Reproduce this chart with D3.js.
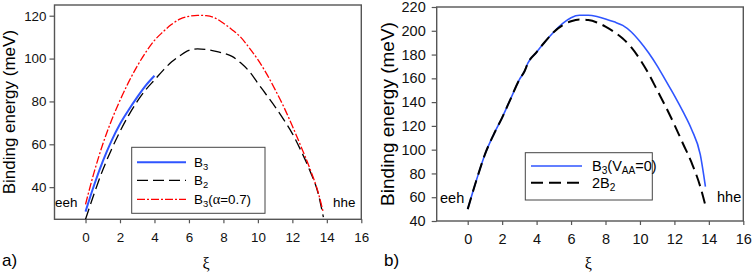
<!DOCTYPE html>
<html>
<head>
<meta charset="utf-8">
<script src="https://cdn.jsdelivr.net/npm/d3@7"></script>
<style>
  body { margin: 0; background: #fff; }
  svg { display: block; font-family: "Liberation Sans", Arial, sans-serif; }
</style>
</head>
<body>
<svg id="fig" width="754" height="275"></svg>
<script>
// panel a
const xiA = [0,0.5,1,1.5,2,2.5,3,3.5,4,4.5,5,5.5,6,6.5,7,7.5,8,8.5,9,9.5,10,10.5,11,11.5,12,12.5,13,13.5,13.8];
const xiA_B3 = [0,0.5,1,1.5,2,2.5,3,3.5,4];
const B3_a = [28.6,41,52,61.5,69.5,76,82,87.5,92];
const B2_a = [25,37,48,57.5,66,73.5,80,85.5,90,94.5,98.5,101.5,103.8,104.5,104.2,103.5,102.5,101,98,94,88.5,83,77.5,71.5,65,57,48,37,26];
const B3alpha_a = [32,47,60,71,80.5,89,96.5,103,108.5,112.5,116,118.5,119.7,120.2,120,119,116.5,113.5,110,105,99.5,93,85.5,77.5,68.5,59,49,37.5,28];

// panel b
const xiB = [0,0.5,1,1.5,2,2.5,3,3.3,3.5,4,4.5,5,5.5,6,6.5,7,7.5,8,8.5,9,9.5,10,10.5,11,11.5,12,12.5,13,13.5,13.8];
const B3V0_b = [50,74,96,112.5,127,143,159,166,173,182,191,199,206,211,213,213,212,210,207.5,204.5,199,191,181.5,170.5,158,145.5,132,117,96,69];
const B2x2_b = [50,74,96,112.5,127,143,159,166,173,182,191,199,204.5,208,209.5,209,207,203.5,199,193.5,186,176,164,150,136,121,105,89,69,53];

const xTicks = [0,2,4,6,8,10,12,14,16];
const yTicksA = [40,60,80,100,120];
const yTicksB = [40,60,80,100,120,140,160,180,200,220];

class LinePanel{
  constructor(config){
    this.config = config;
    this.init();
  }
  init(){
    let self = this;
    const c = self.config;
    const svg = d3.select('#fig');
    self.g = svg.append('g');

    self.xscale = d3.scaleLinear().domain([-1.8, 16]).range([c.left, c.right]);
    self.yscale = d3.scaleLinear().domain(c.ydomain).range([c.bottom, c.top]);

    const xaxis = d3.axisBottom(self.xscale).tickValues(xTicks).tickSize(4).tickSizeOuter(0).tickPadding(9);
    const yaxis = d3.axisLeft(self.yscale).tickValues(c.yticks).tickSize(5).tickSizeOuter(0).tickPadding(c.ypad);

    const xg = self.g.append('g').attr('transform', `translate(0,${c.bottom})`).call(xaxis);
    const yg = self.g.append('g').attr('transform', `translate(${c.left},0)`).call(yaxis);
    [xg, yg].forEach(a => {
      a.select('.domain').remove();
      a.selectAll('line').attr('stroke', '#555').attr('stroke-width', 1.2);
      a.selectAll('text').attr('fill', '#111').style('font-size', c.fs + 'px').style('font-family', '"Liberation Sans", Arial, sans-serif');
    });

    // frame
    self.g.append('rect')
      .attr('x', c.left).attr('y', c.top)
      .attr('width', c.right - c.left).attr('height', c.bottom - c.top)
      .attr('fill', 'none').attr('stroke', '#555').attr('stroke-width', 1.4);

    const line = d3.line().x(d => self.xscale(d[0])).y(d => self.yscale(d[1])).curve(d3.curveMonotoneX);
    c.series.forEach(s => {
      self.g.append('path')
        .datum(d3.zip(s.x, s.y))
        .attr('d', line)
        .attr('fill', 'none')
        .attr('stroke', s.color)
        .attr('stroke-width', s.width)
        .attr('stroke-dasharray', s.dash);
    });

    // labels
    const yl = (c.top + c.bottom) / 2;
    self.g.append('text')
      .attr('transform', `translate(${c.ylabelX},${yl}) rotate(-90)`)
      .attr('text-anchor', 'middle')
      .style('font-size', c.lfs + 'px')
      .text('Binding energy (meV)');
    self.g.append('text')
      .attr('x', c.panelX).attr('y', 266)
      .style('font-size', '17px')
      .text(c.panel);
    self.g.append('text')
      .attr('x', self.xscale(7)).attr('y', 269)
      .attr('text-anchor', 'middle')
      .style('font-family', '"Liberation Serif", "DejaVu Serif", serif')
      .style('font-size', '16px')
      .text('ξ');
    c.ends.forEach(e => {
      self.g.append('text')
        .attr('x', e.x).attr('y', e.y)
        .style('font-size', c.fs + 'px')
        .text(e.t);
    });

    // legend
    const L = c.legend;
    self.g.append('rect')
      .attr('x', L.x).attr('y', L.y).attr('width', L.w).attr('height', L.h)
      .attr('fill', '#fff').attr('stroke', '#444').attr('stroke-width', 1);
    L.items.forEach((it, i) => {
      const s = c.series[it.s];
      const yy = L.rows[i];
      self.g.append('line')
        .attr('x1', L.lx1).attr('x2', L.lx2).attr('y1', yy).attr('y2', yy)
        .attr('stroke', s.color).attr('stroke-width', s.width).attr('stroke-dasharray', s.dash);
      const t = self.g.append('text')
        .attr('x', L.tx).attr('y', yy + 5)
        .style('font-size', c.fs + 'px');
      it.parts.forEach(p => {
        const ts = t.append('tspan').text(p.t);
        if (p.sub) ts.attr('baseline-shift', '-30%').style('font-size', (c.fs * 0.7) + 'px');
        if (p.serif) ts.style('font-family', '"Liberation Serif", serif').style('font-size', (c.fs + 1) + 'px');
      });
    });
  }
}

new LinePanel({
  left: 54.5, right: 361.3, top: 5, bottom: 219.3,
  ydomain: [25, 125], yticks: yTicksA, ypad: 3, fs: 13.4, lfs: 17,
  ylabelX: 15, panel: 'a)', panelX: 2,
  series: [
    {x: xiA_B3, y: B3_a, color: '#2f55ff', width: 2, dash: null},
    {x: xiA, y: B2_a, color: '#000', width: 1.3, dash: '11,5'},
    {x: xiA, y: B3alpha_a, color: '#ff0000', width: 1.3, dash: '8,2,2,2'}
  ],
  ends: [{x: 55, y: 207, t: 'eeh'}, {x: 333, y: 207, t: 'hhe'}],
  legend: {
    x: 131.7, y: 147.3, w: 133.3, h: 66, lx1: 137, lx2: 186, tx: 194,
    rows: [162.3, 180.3, 199.3],
    items: [
      {s: 0, parts: [{t: 'B'}, {t: '3', sub: true}]},
      {s: 1, parts: [{t: 'B'}, {t: '2', sub: true}]},
      {s: 2, parts: [{t: 'B'}, {t: '3', sub: true}, {t: '('}, {t: 'α', serif: true}, {t: '=0.7)'}]}
    ]
  }
});

new LinePanel({
  left: 436.7, right: 743.3, top: 7, bottom: 221,
  ydomain: [40, 220], yticks: yTicksB, ypad: 6, fs: 14.5, lfs: 19,
  ylabelX: 394, panel: 'b)', panelX: 384,
  series: [
    {x: xiB, y: B3V0_b, color: '#2f55ff', width: 1.6, dash: null},
    {x: xiB, y: B2x2_b, color: '#000', width: 2, dash: '12,6'}
  ],
  ends: [{x: 440, y: 203, t: 'eeh'}, {x: 717, y: 202, t: 'hhe'}],
  legend: {
    x: 525.3, y: 152.7, w: 127, h: 47.3, lx1: 531, lx2: 582, tx: 592,
    rows: [166, 182.7],
    items: [
      {s: 0, parts: [{t: 'B'}, {t: '3', sub: true}, {t: '(V'}, {t: 'AA', sub: true}, {t: '=0)'}]},
      {s: 1, parts: [{t: '2B'}, {t: '2', sub: true}]}
    ]
  }
});
</script>
</body>
</html>
